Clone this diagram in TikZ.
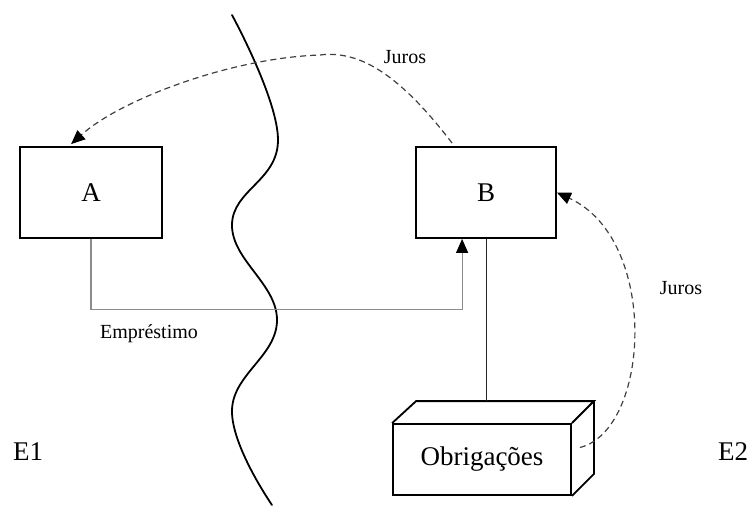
\documentclass[tikz,border=0pt]{standalone}
\usepackage{fontspec}
\setmainfont{Liberation Serif}
\usetikzlibrary{arrows.meta,calc}
\begin{document}
\begin{tikzpicture}[x=1pt,y=-1pt,
  agent/.style={draw,line width=1.8pt,minimum width=142pt,minimum height=91pt,inner sep=0pt,font=\fontsize{27}{30}\selectfont},
  lbl/.style={font=\fontsize{20}{22}\selectfont,inner sep=0pt},
  big/.style={font=\fontsize{27}{30}\selectfont,inner sep=0pt},
  tip/.style={-{Triangle[length=14pt,width=12pt,color=black]}},
  flow/.style={tip,dashed,dash pattern=on 6pt off 4pt,draw=black!75,line width=1.2pt},
  loan/.style={tip,draw=black!45,line width=1.1pt},
  wall/.style={line width=1.8pt,line cap=round}]
\useasboundingbox (0,0) rectangle (753,511);

% the two economies and their border
\node[big] (e1) at (28,452) {E1};
\node[big] (e2) at (733,452) {E2};
\draw[wall] plot[smooth,tension=0.7] coordinates
  {(232,15) (278,140) (232,225) (277,320) (232,410) (272,505)};

% agents
\node[agent] (A) at (91,192.5) {A};
\node[agent,minimum width=140pt] (B) at (486,192.5) {B};

% bond box drawn as a cuboid
\node[draw,line width=1.8pt,minimum width=178pt,minimum height=71pt,inner sep=0pt,
  font=\fontsize{27}{30}\selectfont] (ob) at (482,459.5) {Obrigações};
\coordinate (obtl) at ($(ob.north west)+(24,-22)$);
\coordinate (obtr) at ($(ob.north east)+(22,-22)$);
\coordinate (obbr) at ($(ob.south east)+(22,-22)$);
\draw[line width=1.8pt,line join=miter] (ob.north west) -- (obtl) -- (obtr) -- (ob.north east);
\draw[line width=1.8pt,line join=miter] (obtr) -- (obbr) -- (ob.south east);

% B holds the bonds
\draw[line width=1pt,draw=black!85] (B.south) -- (B.south |- obtl);

% loan from A to B
\coordinate (bin) at ($(B.south west)+(47,0)$);
\draw[loan] (A.south) -- ++(0,71) -| (bin);
\node[lbl] (emp) at (149,334) {Empréstimo};

% interest flows
\coordinate (bout) at ($(B.north west)+(37,-3)$);
\coordinate (ain) at ($(A.north west)+(52,-2)$);
\coordinate (peak) at (320,55);
\draw[flow] (bout) .. controls (400,75) and (360,50) .. (peak)
  .. controls (230,58) and (120,100) .. (ain);
\node[lbl] (j1) at (405,57) {Juros};

\coordinate (obout) at ($(ob.east)+(8,-12)$);
\draw[flow] (obout) .. controls (650,430) and (660,240) .. (B.east);
\node[lbl] (j2) at (681,288) {Juros};
\end{tikzpicture}
\end{document}
